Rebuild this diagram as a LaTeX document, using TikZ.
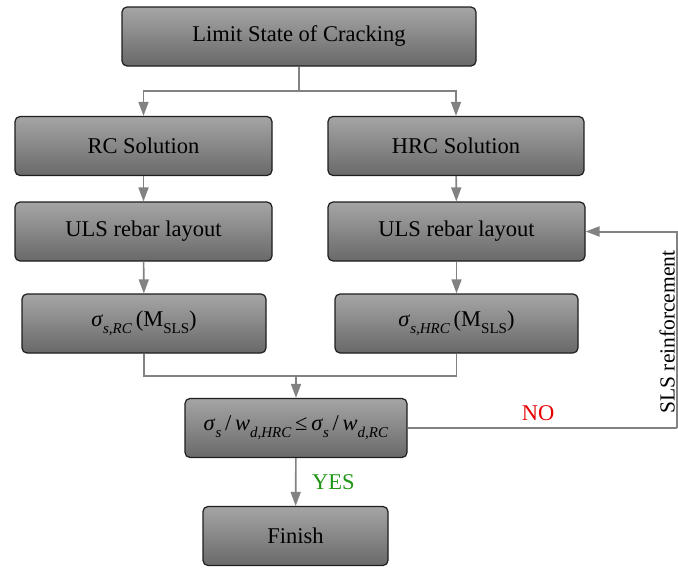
\documentclass[tikz,border=0pt]{standalone}
\usepackage{fontspec}
\setmainfont{Liberation Serif}
\usetikzlibrary{arrows.meta}
\definecolor{boxtop}{RGB}{165,165,165}
\definecolor{boxbot}{RGB}{105,105,105}
\definecolor{boxedge}{RGB}{30,30,30}
\definecolor{conngray}{RGB}{130,130,130}
\definecolor{nored}{RGB}{230,0,0}
\definecolor{yesgreen}{RGB}{30,150,20}
\newcommand{\mysub}[1]{\raisebox{-0.32em}{\fontsize{15}{15}\selectfont #1}}
\tikzset{
  box/.style={draw=boxedge, line width=1.2pt, rounded corners=5pt,
    top color=boxtop, bottom color=boxbot, minimum height=59pt,
    inner sep=0pt, font=\fontsize{22.5}{26}\selectfont, text=black},
  conn/.style={draw=conngray, line width=1.6pt, -{Triangle[width=10pt,length=14pt]}},
  plain/.style={draw=conngray, line width=1.6pt},
  lbl/.style={font=\fontsize{22.5}{26}\selectfont, inner sep=0pt}
}
\begin{document}
\begin{tikzpicture}[x=1pt,y=-1pt]
\useasboundingbox (0,0) rectangle (678,570);
\node[box, minimum width=354pt] (lim) at (299,36.5) {Limit State of Cracking};
\node[box, minimum width=257pt] (rc) at (143.5,146) {RC Solution};
\node[box, minimum width=256pt] (hrc) at (456,146) {HRC Solution};
\node[box, minimum width=257pt] (ulsl) at (143.5,231.5) {ULS rebar layout};
\node[box, minimum width=257pt] (ulsr) at (456.5,231.5) {ULS rebar layout};
\node[box, minimum width=244pt] (sigl) at (144,323.5) {\textit{σ}\mysub{\textit{s,RC}}\,(M\mysub{SLS})};
\node[box, minimum width=243pt] (sigr) at (456.5,323.5) {\textit{σ}\mysub{\textit{s,HRC}}\,(M\mysub{SLS})};
\node[box, minimum width=222pt] (cond) at (296,428) {\textit{σ}\mysub{\textit{s}}\,/\,\textit{w}\mysub{\textit{d,HRC}}\,≤\,\textit{σ}\mysub{\textit{s}}\,/\,\textit{w}\mysub{\textit{d,RC}}};
\node[box, minimum width=185pt] (fin) at (295.5,536) {Finish};
% split from top
\coordinate (split) at (299,91);
\draw[plain] (lim.south) -- (split);
\draw[conn] (split) -| (rc.north);
\draw[conn] (split) -| (hrc.north);
\draw[conn] (rc) -- (ulsl);
\draw[conn] (hrc) -- (ulsr);
\draw[conn] (ulsl) -- (sigl);
\draw[conn] (ulsr) -- (sigr);
% merge
\coordinate (merge) at (296,376);
\draw[plain] (sigl.south) |- (merge);
\draw[plain] (sigr.south) |- (merge);
\draw[conn] (merge) -- (cond.north);
% yes
\draw[conn] (cond) -- (fin);
\node[lbl, text=yesgreen, anchor=west] (yes) at (312,482) {YES};
% no loop
\coordinate (corner) at (677.3,428);
\draw[plain] (cond.east) -- (corner);
\draw[conn, line width=2pt] (corner) |- (ulsr.east);
\node[lbl, text=nored] (no) at (538,413) {NO};
\node[lbl, rotate=90, anchor=base, font=\fontsize{21.5}{24}\selectfont] (sls) at (674.5,332) {SLS reinforcement};
\end{tikzpicture}
\end{document}
